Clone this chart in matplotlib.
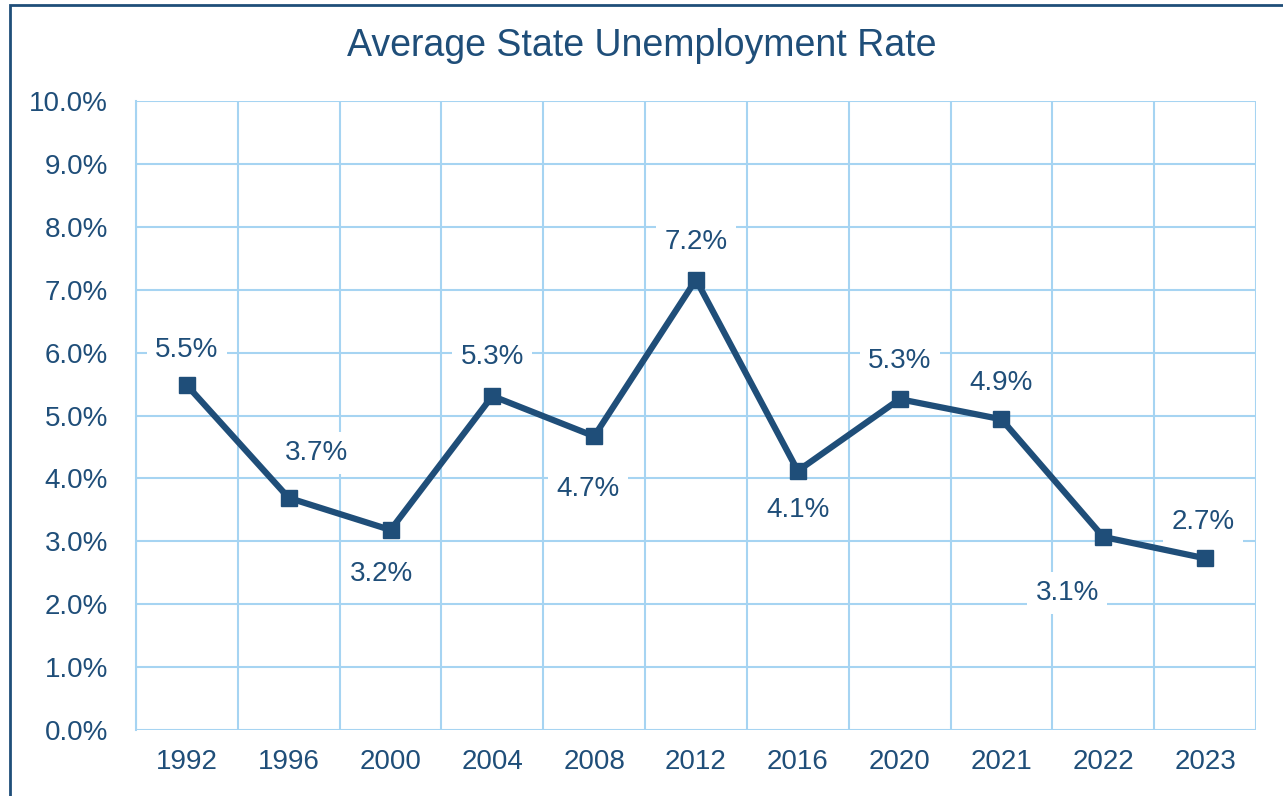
import matplotlib.pyplot as plt
from matplotlib.patches import Rectangle
from matplotlib.ticker import FuncFormatter, MultipleLocator

plt.rcParams['font.family'] = ['Liberation Sans', 'DejaVu Sans']

years = ["1992", "1996", "2000", "2004", "2008", "2012", "2016", "2020", "2021", "2022", "2023"]
rates = [5.48, 3.69, 3.18, 5.31, 4.67, 7.16, 4.12, 5.26, 4.94, 3.07, 2.73]

# label placement (pixel offsets from each point)
label_dx = [0, 28, -9, 0, -6, 0, 0, 0, 0, -36, -2]
label_dy = [35, 45, -44, 39, -53, 38, -39, 38, 36, -56, 36]

navy = "#1F4E79"
grid_blue = "#A6D4F2"

fig = plt.figure(figsize=(12.83, 7.96), dpi=100)
ax = fig.add_axes([136 / 1283, 1 - 730 / 796, 1120 / 1283, 629 / 796])

x = list(range(len(years)))
ax.plot(x, rates, color=navy, lw=4.5, marker="s", markersize=12, zorder=3)

for i, v in enumerate(rates):
    ax.annotate(f"{v:.1f}%", (i, v), xytext=(label_dx[i], label_dy[i]),
                textcoords="offset pixels", ha="center", va="center",
                fontsize=20, color=navy, zorder=4,
                bbox=dict(boxstyle="square,pad=0.3", fc="white", ec="none"))

ax.set_xlim(-0.5, len(years) - 0.5)
ax.set_ylim(0, 10)
ax.set_xticks(x)
ax.set_xticklabels(years)
ax.set_xticks([i + 0.5 for i in range(-1, len(years))], minor=True)
ax.yaxis.set_major_locator(MultipleLocator(1))
ax.yaxis.set_major_formatter(FuncFormatter(lambda v, p: f"{v:.1f}%"))

ax.grid(True, which="major", axis="y", color=grid_blue, lw=1.5)
ax.grid(True, which="minor", axis="x", color=grid_blue, lw=1.5)
ax.set_axisbelow(True)
for s in ax.spines.values():
    s.set_visible(False)
ax.spines["left"].set_visible(True)
ax.spines["left"].set_color(grid_blue)
ax.spines["left"].set_linewidth(1.5)
ax.tick_params(which="both", length=0, labelsize=20, labelcolor=navy)
ax.tick_params(axis="x", pad=14)
ax.tick_params(axis="y", pad=20)

fig.text(0.5, 1 - 46 / 796, "Average State Unemployment Rate", ha="center", va="center",
         fontsize=27, color=navy)

fig.patches.append(Rectangle((10 / 1283, -0.1), 1.2, 1 - 5 / 796 + 0.1,
                             transform=fig.transFigure, fill=False, ec=navy, lw=2))

fig.savefig("out.png", dpi=100)
